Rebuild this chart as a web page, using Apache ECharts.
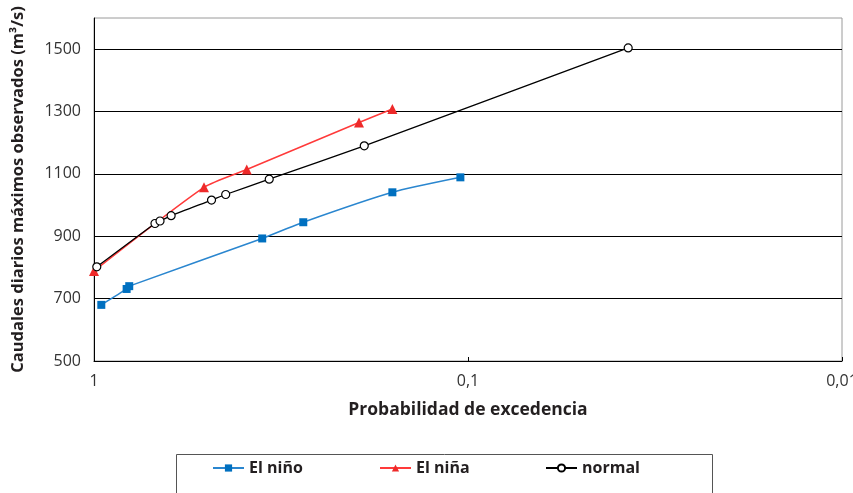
<!DOCTYPE html>
<html>
<head>
<meta charset="utf-8">
<script src="https://cdn.jsdelivr.net/npm/echarts@6/dist/echarts.min.js"></script>
<style>
  html, body { margin: 0; padding: 0; background: #ffffff; }
  #chart { width: 853px; height: 493px; }
</style>
</head>
<body>
<div id="chart"></div>
<script>
// Exceedance probability (x) and observed daily maximum discharge (y, m³/s)
const ninoProb = [0.956, 0.818, 0.805, 0.355, 0.2757, 0.1593, 0.1048];
const ninoFlow = [680, 731, 740, 893, 945, 1041, 1089];

const ninaProb = [1.0, 0.508, 0.3905, 0.1956, 0.1593];
const ninaFlow = [789, 1057, 1114, 1265, 1308];

const normalProb = [0.983, 0.687, 0.666, 0.622, 0.485, 0.4445, 0.340, 0.1894, 0.0373];
const normalFlow = [802, 941, 949, 966, 1016, 1034, 1083, 1190, 1504];

const seriesNames = ['El niño', 'El niña', 'normal'];
const yTickLabels = [500, 700, 900, 1100, 1300, 1500];
const xTickLabels = { '0': '1', '-1': '0,1', '-2': '0,01' };

const pairs = (xs, ys) => xs.map((x, i) => [x, ys[i]]);

const FONT = '"Open Sans", "Noto Sans", sans-serif';
const chart = echarts.init(document.getElementById('chart'), null, { renderer: 'canvas' });

const legendText = { fontFamily: FONT, fontWeight: 'bold', fontSize: 16, color: '#231f20' };
const legendBase = {
  top: 460, itemWidth: 31, itemHeight: 9, itemGap: 0,
  textStyle: legendText, padding: 0
};

chart.setOption({
  animation: false,
  backgroundColor: '#ffffff',
  grid: {
    left: 94, right: 11, top: 18, bottom: 132,
    containLabel: false, outerBoundsMode: 'none',
    show: true, borderColor: '#9a9a9a', borderWidth: 1, backgroundColor: 'transparent'
  },
  graphic: [{
    type: 'rect', left: 174, top: 452,
    shape: { width: 536, height: 39 },
    style: { fill: 'none', stroke: '#555', lineWidth: 1 }
  }],
  legend: [
    Object.assign({}, legendBase, { left: 212, data: [seriesNames[0]] }),
    Object.assign({}, legendBase, { left: 379, data: [seriesNames[1]] }),
    Object.assign({}, legendBase, { left: 545, data: [seriesNames[2]] })
  ],
  xAxis: {
    type: 'log', logBase: 10, min: 0.01, max: 1, inverse: true,
    name: 'Probabilidad de excedencia', nameLocation: 'middle', nameGap: 40,
    nameTextStyle: { fontFamily: FONT, fontWeight: 'bold', fontSize: 17.5, color: '#231f20' },
    axisLine: { lineStyle: { color: '#000', width: 1 } },
    axisTick: { show: true, inside: true, length: 4, lineStyle: { color: '#000' } },
    minorTick: { show: false },
    splitLine: { show: false },
    axisLabel: {
      fontFamily: FONT, fontSize: 16, color: '#333', margin: 12,
      formatter: v => xTickLabels[String(Math.round(Math.log10(v)))] || ''
    }
  },
  yAxis: {
    type: 'value', min: 500, max: 1600, interval: 100,
    name: 'Caudales diarios máximos observados (m³/s)', nameLocation: 'middle', nameGap: 67,
    nameTextStyle: { fontFamily: FONT, fontWeight: 'bold', fontSize: 16.5, color: '#231f20' },
    axisLine: { show: true, lineStyle: { color: '#000', width: 1 } },
    axisTick: { show: false },
    splitLine: { show: true, lineStyle: { color: ['#000', 'rgba(0,0,0,0)'], width: 1 } },
    axisLabel: {
      fontFamily: FONT, fontSize: 16, color: '#333', margin: 13,
      formatter: v => yTickLabels.includes(v) ? String(v) : ''
    }
  },
  series: [
    {
      name: seriesNames[0], type: 'line', smooth: 0.2,
      data: pairs(ninoProb, ninoFlow),
      symbol: 'rect', symbolSize: 8,
      lineStyle: { color: '#2a86cf', width: 1.5 },
      itemStyle: { color: '#0070c0', borderWidth: 0 }
    },
    {
      name: seriesNames[1], type: 'line', smooth: 0.2,
      data: pairs(ninaProb, ninaFlow),
      symbol: 'triangle', symbolSize: 10,
      lineStyle: { color: '#ff3a3a', width: 1.5 },
      itemStyle: { color: '#ee2a2a', borderWidth: 0 }
    },
    {
      name: seriesNames[2], type: 'line', smooth: 0.2,
      data: pairs(normalProb, normalFlow),
      symbol: 'circle', symbolSize: 8,
      showAllSymbol: true,
      lineStyle: { color: '#000', width: 1.3 },
      itemStyle: { color: '#ffffff', borderColor: '#000', borderWidth: 1.2 }
    }
  ]
});
</script>
</body>
</html>
